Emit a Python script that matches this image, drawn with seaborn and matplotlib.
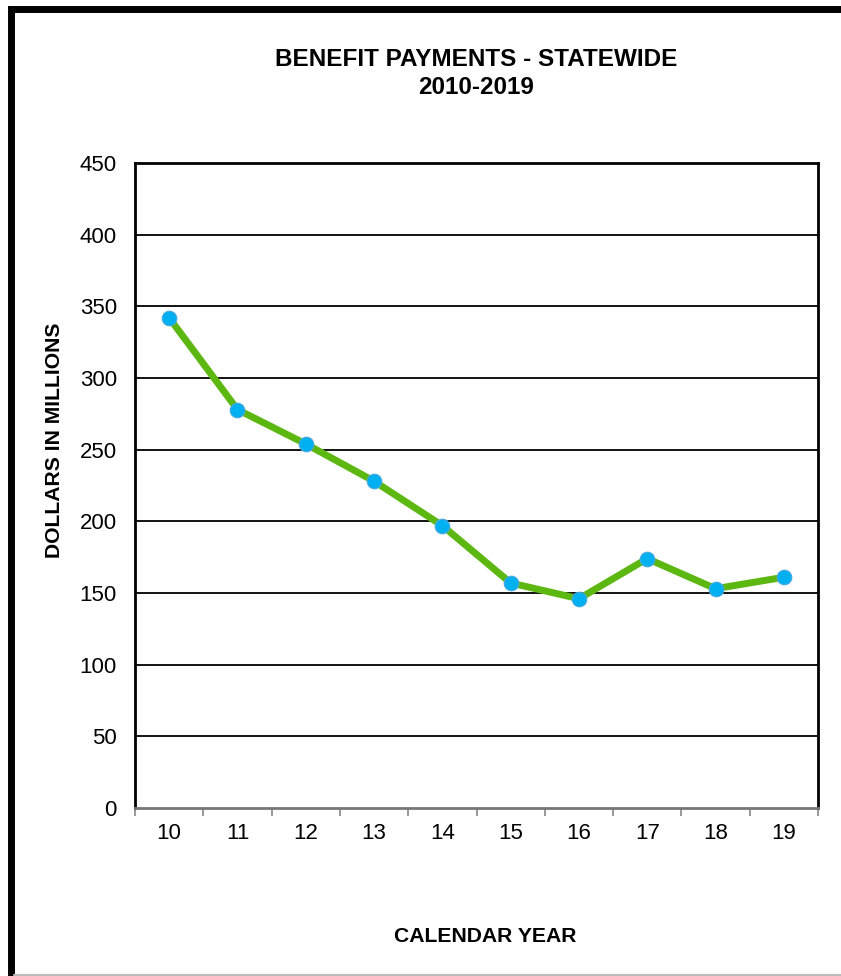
import matplotlib
matplotlib.use("Agg")
import matplotlib.pyplot as plt
import seaborn as sns
import numpy as np
import pandas as pd
from matplotlib.lines import Line2D

# data
years = ["10", "11", "12", "13", "14", "15", "16", "17", "18", "19"]
payments = [342, 278, 254, 228, 197, 157, 146, 174, 153, 161]
y_ticks = [0, 50, 100, 150, 200, 250, 300, 350, 400, 450]

sns.set_theme(style="white", rc={"text.color": "black", "xtick.color": "black",
                                 "ytick.color": "black", "axes.labelcolor": "black"})
plt.rcParams["font.family"] = ["Liberation Sans", "DejaVu Sans"]

W, H = 841, 976
fig = plt.figure(figsize=(W / 100, H / 100), dpi=100)
ax = fig.add_axes([135 / W, 1 - 808 / H, (818 - 135) / W, (808 - 163) / H])

df = pd.DataFrame({"year": years, "payments": payments})
sns.lineplot(data=df, x="year", y="payments", ax=ax, color="#5CB811", linewidth=5,
             marker="o", markersize=10.5, markerfacecolor="#00B0F0",
             markeredgecolor="#4AA8E0", markeredgewidth=0.8, sort=False)

ax.set_xlim(-0.5, len(years) - 0.5)
ax.set_ylim(0, 450)
ax.set_yticks(y_ticks)
ax.set_yticklabels([str(v) for v in y_ticks], fontsize=16, color="black")
ax.tick_params(axis="y", length=0, pad=13)
ax.tick_params(axis="x", which="major", length=0, pad=11, labelsize=16, labelcolor="black")
ax.set_xticks(np.arange(-0.5, len(years), 1.0), minor=True)
ax.tick_params(axis="x", which="minor", length=6, width=1.2, color="#888888", direction="out")
ax.xaxis.set_tick_params(which="minor", bottom=True)

for v in y_ticks[1:-1]:
    ax.axhline(v, color="black", linewidth=1.3, zorder=0)

for side in ["left", "top", "right"]:
    ax.spines[side].set_color("black")
    ax.spines[side].set_linewidth(2)
ax.spines["bottom"].set_color("#777777")
ax.spines["bottom"].set_linewidth(2)

ax.set_xlabel("")
ax.set_ylabel("")

fig.text(476 / W, 1 - 59 / H, "BENEFIT PAYMENTS - STATEWIDE", ha="center", va="center",
         fontsize=17.5, fontweight="bold", color="black")
fig.text(476 / W, 1 - 87 / H, "2010-2019", ha="center", va="center",
         fontsize=17.5, fontweight="bold", color="black")
fig.text(485 / W, 1 - 937 / H, "CALENDAR YEAR", ha="center", va="center",
         fontsize=15.2, fontweight="bold", color="black")
fig.text(55 / W, 1 - 440 / H, "DOLLARS IN MILLIONS", ha="center", va="center",
         rotation=90, fontsize=15.2, fontweight="bold", color="black")

# outer frame: thick black on left and top, thin grey at the bottom
fig.add_artist(Line2D([10.5 / W, 10.5 / W, 1.02], [-0.01, 1 - 8.5 / H, 1 - 8.5 / H],
                      transform=fig.transFigure, color="black", linewidth=5,
                      solid_joinstyle="miter", solid_capstyle="butt"))
fig.add_artist(Line2D([14 / W, 1.0], [1 - 975 / H, 1 - 975 / H], transform=fig.transFigure,
                      color="#BBBBBB", linewidth=1.5))

fig.savefig("out.png", dpi=100)
